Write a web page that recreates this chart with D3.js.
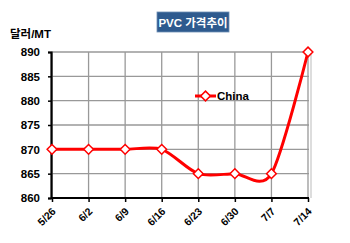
<!DOCTYPE html>
<html><head><meta charset="utf-8">
<script src="https://cdn.jsdelivr.net/npm/d3@7"></script>
<style>body{margin:0;background:#fff}svg{display:block}</style>
</head><body>
<script>
const categories = ["5/26","6/2","6/9","6/16","6/23","6/30","7/7","7/14"];
const china = [870,870,870,870,865,865,865,890];
const yTicks = [860,865,870,875,880,885,890];
const seriesName = "China";
const title = "PVC 가격추이";
const yLabel = "달러/MT";

const W=350,H=243;
const svg=d3.select("body").append("svg").attr("width",W).attr("height",H);
const font="Arial, 'Liberation Sans', 'Noto Sans CJK KR', sans-serif";
const pL=51,pR=309,pT=52,pB=198;
const x=d3.scalePoint().domain(categories).range([pL+1,pR-1]);
const y=d3.scaleLinear().domain([860,890]).range([pB,pT]);

// gridlines
svg.append("g").selectAll("line").data(yTicks).join("line")
 .attr("x1",pL).attr("x2",pR).attr("y1",d=>y(d)).attr("y2",d=>y(d))
 .attr("stroke","#999").attr("stroke-width",1.3);
svg.append("g").selectAll("line").data(categories).join("line")
 .attr("x1",d=>x(d)).attr("x2",d=>x(d)).attr("y1",pT).attr("y2",pB)
 .attr("stroke","#999").attr("stroke-width",1.3);
svg.append("line").attr("x1",pR+2).attr("x2",pR+2).attr("y1",pT).attr("y2",pB).attr("stroke","#bbb").attr("stroke-width",1);

// axes
const ya=svg.append("g").attr("transform",`translate(${pL},0)`).call(d3.axisLeft(y).tickValues(yTicks).tickSize(3).tickFormat(d3.format("d")));
ya.select(".domain").attr("stroke","#000").attr("stroke-width",2.2);
ya.selectAll(".tick line").attr("stroke","#000").attr("stroke-width",1.5);
ya.selectAll("text").attr("font-family",font).attr("font-weight","bold").attr("font-size",11.5).attr("fill","#000").attr("x",-11);
const xa=svg.append("g").attr("transform",`translate(0,${pB})`).call(d3.axisBottom(x).tickSize(4).tickSizeOuter(0));
xa.select(".domain").attr("stroke","#000").attr("stroke-width",2.2).attr("d",`M${pL},0H${pR}`);
xa.selectAll(".tick line").attr("stroke","#000").attr("stroke-width",1.5);
xa.selectAll("text").attr("font-family",font).attr("font-weight","bold").attr("font-size",10.5).attr("fill","#000")
 .attr("text-anchor","end").attr("dy",null).attr("y",0).attr("transform","translate(4,14) rotate(-45)");

// line
const line=d3.line().x((d,i)=>x(categories[i])).y(d=>y(d)).curve(d3.curveCardinal.tension(0.15));
svg.append("path").datum(china).attr("d",line).attr("fill","none").attr("stroke","#ff0000").attr("stroke-width",3);
const diamond=d3.symbol().type(d3.symbolDiamond2).size(60);
svg.append("g").selectAll("path").data(china).join("path")
 .attr("d",diamond).attr("transform",(d,i)=>`translate(${x(categories[i])},${y(d)})`)
 .attr("fill","#fff").attr("stroke","#ff0000").attr("stroke-width",1.5);

// legend
svg.append("line").attr("x1",195).attr("x2",216).attr("y1",96).attr("y2",96).attr("stroke","#ff0000").attr("stroke-width",3);
svg.append("path").attr("d",diamond).attr("transform","translate(205.5,96)").attr("fill","#fff").attr("stroke","#ff0000").attr("stroke-width",1.5);
svg.append("text").attr("x",217).attr("y",100).text(seriesName).attr("font-family",font).attr("font-weight","bold").attr("font-size",11.5);

// title
svg.append("rect").attr("x",157).attr("y",12).attr("width",72).attr("height",20).attr("fill","#2e5a8e").attr("stroke","#6f8fb5").attr("stroke-width",0.8);
svg.append("text").attr("x",193).attr("y",26.5).attr("text-anchor","middle").text(title).attr("font-family",font).attr("font-weight","bold").attr("font-size",11.5).attr("fill","#fff");
svg.append("text").attr("x",10).attr("y",38).text(yLabel).attr("font-family",font).attr("font-weight","bold").attr("font-size",11.5).attr("fill","#000");
</script>
</body></html>
